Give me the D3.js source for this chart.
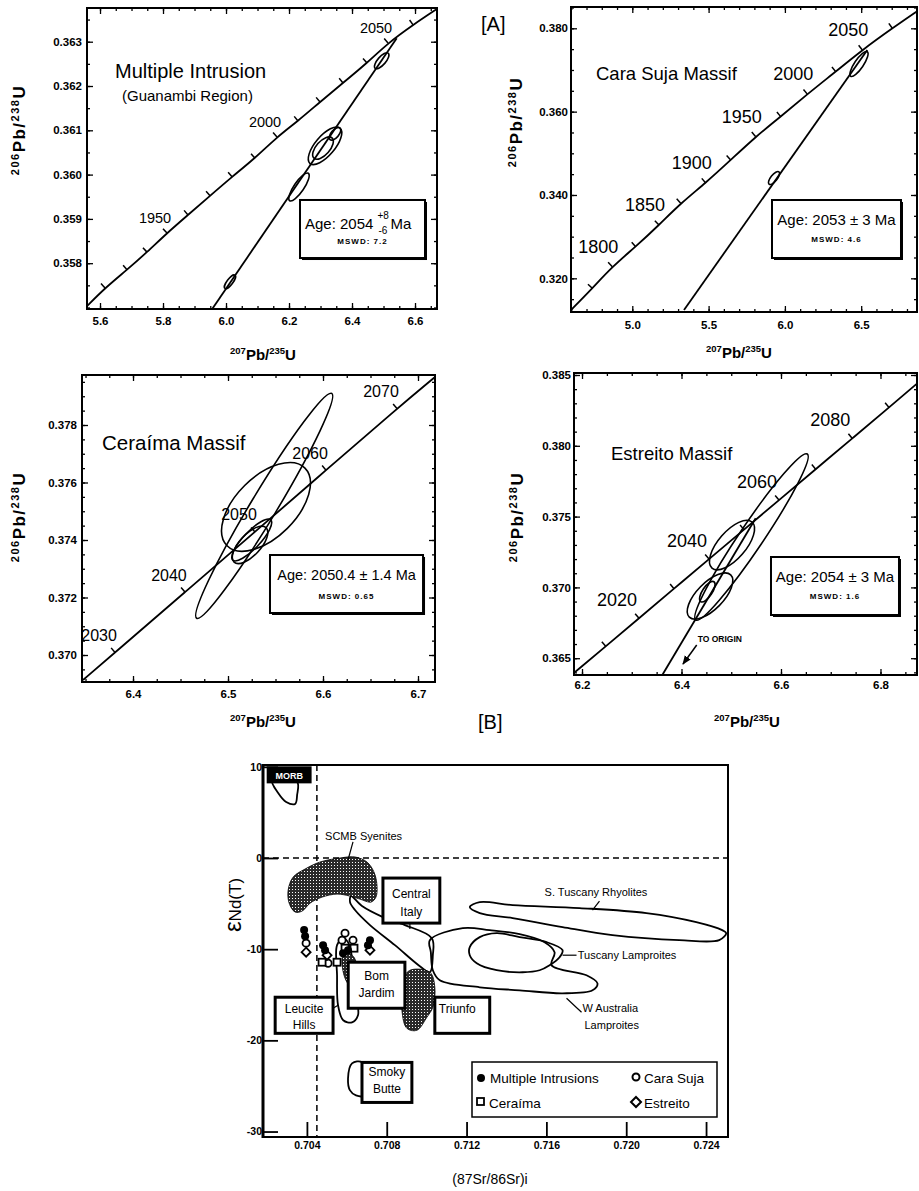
<!DOCTYPE html>
<html><head><meta charset="utf-8">
<script src="https://cdn.jsdelivr.net/npm/d3@7"></script>
<style>body{margin:0;background:#fff}</style>
</head><body>
<script>
// ================= DATA =================
// --- Panel A1: Multiple Intrusion (Guanambi Region) ---
const miXTicks=[5.6,5.8,6.0,6.2,6.4,6.6];
const miYTicks=[0.358,0.359,0.360,0.361,0.362,0.363];
const miConcordia=[[5.5587,0.35703],[5.6159,0.35744],[5.6857,0.35785],[5.7492,0.35825],[5.8127,0.35868],[5.8794,0.35909],[5.9492,0.35952],[6.0190,0.35995],[6.0921,0.36037],[6.1619,0.36085],[6.2286,0.36121],[6.2984,0.36164],[6.3714,0.36207],[6.4476,0.36252],[6.5143,0.36297],[6.5937,0.36338],[6.6698,0.36374]];
const miAges=[null,1920,1930,1940,1950,1960,1970,1980,1990,2000,2010,2020,2030,2040,2050,2060,null];
const miLabelAges=[1950,2000,2050];
const miDiscordia=[[5.9556,0.35696],[6.5419,0.36308]];
// ellipses: centre x, centre y, major-axis end x, end y, minor/major ratio
const miEllipses=[[6.0127,0.35758,6.0286,0.35773,0.35],[6.2317,0.35972,6.2613,0.36003,0.3],[6.3143,0.36065,6.3619,0.36105,0.42],[6.3079,0.36060,6.3365,0.36083,0.5],[6.3460,0.36092,6.3619,0.36105,0.5],[6.4943,0.36257,6.5152,0.36274,0.4]];

// --- Panel A2: Cara Suja Massif ---
const csXTicks=[5.0,5.5,6.0,6.5];
const csYTicks=[0.320,0.340,0.360,0.380];
const csConcordia=[[4.5983,0.3124],[4.7379,0.3176],[4.8689,0.3228],[5.0223,0.3276],[5.1750,0.3328],[5.3172,0.3380],[5.4810,0.3429],[5.6448,0.3484],[5.8087,0.3540],[5.9725,0.3588],[6.1468,0.3642],[6.3329,0.3696],[6.5072,0.3748],[6.7038,0.3800],[6.8788,0.3844]];
const csAges=[null,1775,1800,1825,1850,1875,1900,1925,1950,1975,2000,2025,2050,2075,null];
const csLabelAges=[1800,1850,1900,1950,2000,2050];
const csDiscordia=[[5.3388,0.3124],[6.5400,0.3748]];
const csEllipses=[[6.4856,0.37143,6.5400,0.37438,0.3],[5.9286,0.34407,5.9613,0.34556,0.4]];

// --- Panel A3: Ceraíma Massif ---
const ceXTicks=[6.4,6.5,6.6,6.7];
const ceYTicks=[0.370,0.372,0.374,0.376,0.378];
const ceConcordia=[[6.3474,0.36913],[6.3811,0.37009],[6.4547,0.37219],[6.5284,0.37428],[6.6032,0.37643],[6.6779,0.37857],[6.7179,0.37967]];
const ceAges=[null,2030,2040,2050,2060,2070,null];
const ceLabelAges=[2030,2040,2050,2060,2070];
const ceEllipses=[[6.5381,0.37519,6.6092,0.37910,0.1],[6.5400,0.37515,6.5810,0.37650,0.55],[6.5232,0.37383,6.5400,0.37443,0.45],[6.5250,0.37400,6.5450,0.37470,0.3]];

// --- Panel A4: Estreito Massif ---
const esXTicks=[6.2,6.4,6.6,6.8];
const esYTicks=[0.365,0.370,0.375,0.380,0.385];
const esConcordia=[[6.1839,0.36396],[6.2476,0.36584],[6.3146,0.36782],[6.3849,0.36991],[6.4553,0.37200],[6.5256,0.37408],[6.5960,0.37617],[6.6697,0.37835],[6.7433,0.38052],[6.8171,0.38271],[6.8774,0.38451]];
const esAges=[null,2010,2020,2030,2040,2050,2060,2070,2080,2090,null];
const esLabelAges=[2020,2040,2060,2080];
const esDiscordia=[[6.3614,0.36381],[6.5491,0.37488]];
const esEllipses=[[6.5407,0.37356,6.6529,0.37942,0.12],[6.5015,0.37299,6.5417,0.37462,0.45],[6.4573,0.36939,6.4989,0.37088,0.45],[6.4519,0.36970,6.4653,0.37040,0.4]];
const esArrow=[[6.4306,0.36593],[6.4030,0.36459]];

// --- Panel B: eNd(T) vs (87Sr/86Sr)i ---
const bXTicks=[0.704,0.708,0.712,0.716,0.720,0.724];
const bYTicks=[10,0,-10,-20,-30];
const bRefX=0.7045, bRefY=0;
const regMORB=[[0.70226,8.46],[0.70256,7.14],[0.70296,6.15],[0.70341,5.93],[0.70351,6.92],[0.70351,8.35]];
const regSCMB=[[0.70306,-3.52],[0.70331,-2.09],[0.70391,-1.21],[0.70466,-0.44],[0.70566,0.0],[0.70641,0.11],[0.70701,-0.44],[0.70736,-1.54],[0.70751,-2.97],[0.70746,-4.29],[0.70721,-4.84],[0.70666,-4.51],[0.70616,-4.18],[0.70551,-3.96],[0.70476,-4.29],[0.70416,-4.95],[0.70376,-5.82],[0.70341,-5.93],[0.70311,-4.95]];
const regCentralItaly=[[0.70621,-4.18],[0.70676,-5.27],[0.70781,-6.48],[0.70891,-7.36],[0.71026,-8.79],[0.71031,-10.66],[0.71016,-12.53],[0.70966,-11.87],[0.70841,-9.56],[0.70716,-7.36],[0.70641,-5.71],[0.70616,-4.84]];
const regWAustralia=[[0.71016,-9.01],[0.71181,-7.69],[0.71316,-7.91],[0.71466,-8.35],[0.71591,-9.23],[0.71641,-10.33],[0.71626,-11.76],[0.71801,-12.86],[0.71856,-13.74],[0.71831,-14.51],[0.71681,-14.84],[0.71466,-14.51],[0.71266,-14.18],[0.71066,-13.41],[0.71031,-12.31],[0.71021,-10.33]];
const regTuscanyLamp=[[0.71216,-9.78],[0.71266,-8.68],[0.71351,-8.24],[0.71466,-8.68],[0.71601,-9.23],[0.71681,-10.11],[0.71666,-10.88],[0.71616,-11.76],[0.71566,-12.31],[0.71481,-12.53],[0.71351,-12.31],[0.71251,-11.54],[0.71216,-10.66]];
const regSTuscany=[[0.71216,-5.38],[0.71266,-4.84],[0.71431,-5.16],[0.71766,-5.49],[0.72101,-6.04],[0.72351,-7.03],[0.72481,-7.91],[0.72501,-8.24],[0.72466,-9.01],[0.72266,-9.01],[0.71931,-8.46],[0.71681,-7.58],[0.71431,-6.59],[0.71266,-6.04]];
const regTriunfo=[[0.70916,-12.31],[0.71016,-12.53],[0.71041,-14.18],[0.71031,-16.37],[0.71001,-17.47],[0.70951,-18.90],[0.70901,-18.68],[0.70876,-16.70],[0.70881,-13.41]];
const regBomJardim=[[0.70582,-10.66],[0.70626,-10.66],[0.70651,-11.76],[0.70646,-13.41],[0.70616,-13.96],[0.70586,-12.86]];
const regLeucite=[[0.70551,-9.56],[0.70582,-8.79],[0.70611,-9.45],[0.70636,-12.86],[0.70651,-15.60],[0.70656,-17.25],[0.70626,-18.02],[0.70582,-17.80],[0.70556,-16.15],[0.70551,-12.86]];
const regSmoky=[[0.70676,-22.42],[0.70626,-22.53],[0.70606,-24.18],[0.70616,-25.49],[0.70646,-26.04],[0.70686,-26.04]];
// samples
const ptsMultiple=[[0.70386,-7.91],[0.70391,-8.57],[0.70481,-9.56],[0.70491,-10.11],[0.70581,-10.44],[0.70606,-10.11],[0.70716,-9.01],[0.70706,-9.56]];
const ptsCaraSuja=[[0.70396,-9.34],[0.70591,-8.24],[0.70576,-9.01],[0.70631,-9.01],[0.70506,-11.54]];
const ptsCeraima=[[0.70476,-11.43],[0.70551,-11.43],[0.70591,-9.89],[0.70636,-9.89]];
const ptsEstreito=[[0.70396,-10.33],[0.70716,-10.11],[0.70501,-10.66]];

// ================= DRAWING =================
const NARROW="'Liberation Sans Narrow','Liberation Sans',Arial,sans-serif";
const SANS="'Liberation Sans',Arial,sans-serif";
const svg=d3.select('body').append('svg').attr('width',919).attr('height',1191).style('background','#fff');
const defs=svg.append('defs');
const pat=defs.append('pattern').attr('id','stip').attr('width',3).attr('height',3).attr('patternUnits','userSpaceOnUse');
pat.append('rect').attr('width',3).attr('height',3).attr('fill','#2a2a2a');
pat.append('rect').attr('x',1).attr('y',1).attr('width',1).attr('height',1).attr('fill','#fff');

function rangeStep(a,b,s){const o=[];for(let v=Math.ceil(a/s-1e-9);v*s<=b+1e-12;v++)o.push(+(v*s).toFixed(6));return o;}

function styleAxis(sel,size){
  sel.select('.domain').remove();
  sel.selectAll('line').attr('stroke','#000').attr('stroke-width',1.3);
  sel.selectAll('text').attr('font-family',SANS).attr('font-size',size).attr('font-weight','bold').attr('fill','#000');
}

function axisTitle(xc,yc,rot,ls){
  return svg.append('text').attr('transform',`translate(${xc},${yc}) rotate(${rot})`)
    .attr('text-anchor','middle').attr('font-family',SANS).attr('font-weight','bold').attr('fill','#000').attr('letter-spacing',ls||0);
}
function isoTitle(t,a,el1,b,el2,big){
  const s=big?17:15, ss=big?11:9.5;
  t.append('tspan').attr('font-size',ss).attr('dy',-6).text(a);
  t.append('tspan').attr('font-size',s).attr('dy',6).text(el1);
  t.append('tspan').attr('font-size',ss).attr('dy',-6).text(b);
  t.append('tspan').attr('font-size',s).attr('dy',6).text(el2);
}

function drawPanel(p){
  const [fx0,fx1,fy0,fy1]=p.frame;
  const x=d3.scaleLinear().domain(p.xDom).range([fx0,fx1]);
  const y=d3.scaleLinear().domain(p.yDom).range([fy1,fy0]);
  const g=svg.append('g');
  const xm=rangeStep(p.xDom[0],p.xDom[1],p.xMinor), ym=rangeStep(p.yDom[0],p.yDom[1],p.yMinor);
  g.append('g').attr('transform',`translate(0,${fy1})`).call(d3.axisBottom(x).tickValues(xm).tickFormat('').tickSizeInner(-3).tickSizeOuter(0)).call(s=>styleAxis(s,11));
  g.append('g').attr('transform',`translate(0,${fy0})`).call(d3.axisTop(x).tickValues(xm).tickFormat('').tickSizeInner(-3).tickSizeOuter(0)).call(s=>styleAxis(s,11));
  g.append('g').attr('transform',`translate(${fx0},0)`).call(d3.axisLeft(y).tickValues(ym).tickFormat('').tickSizeInner(-3).tickSizeOuter(0)).call(s=>styleAxis(s,11));
  g.append('g').attr('transform',`translate(${fx1},0)`).call(d3.axisRight(y).tickValues(ym).tickFormat('').tickSizeInner(-3).tickSizeOuter(0)).call(s=>styleAxis(s,11));
  g.append('g').attr('transform',`translate(0,${fy1})`).call(d3.axisBottom(x).tickValues(p.xTicks).tickFormat(d3.format('.1f')).tickSizeInner(-6).tickSizeOuter(0).tickPadding(p.xPad)).call(s=>styleAxis(s,11.5));
  g.append('g').attr('transform',`translate(0,${fy0})`).call(d3.axisTop(x).tickValues(p.xTicks).tickFormat('').tickSizeInner(-6).tickSizeOuter(0)).call(s=>styleAxis(s,11));
  g.append('g').attr('transform',`translate(${fx0},0)`).call(d3.axisLeft(y).tickValues(p.yTicks).tickFormat(d3.format('.3f')).tickSizeInner(-6).tickSizeOuter(0).tickPadding(p.yPad)).call(s=>styleAxis(s,11.5));
  g.append('g').attr('transform',`translate(${fx1},0)`).call(d3.axisRight(y).tickValues(p.yTicks).tickFormat('').tickSizeInner(-6).tickSizeOuter(0)).call(s=>styleAxis(s,11));
  defs.append('clipPath').attr('id','c'+p.id).append('rect').attr('x',fx0).attr('y',fy0).attr('width',fx1-fx0).attr('height',fy1-fy0);
  const c=g.append('g').attr('clip-path',`url(#c${p.id})`);
  const line=d3.line().x(d=>x(d[0])).y(d=>y(d[1])).curve(d3.curveBasis);
  c.append('path').attr('d',line(p.conc)).attr('fill','none').attr('stroke','#000').attr('stroke-width',1.8);
  if(p.disc) c.append('path').attr('d',d3.line().x(d=>x(d[0])).y(d=>y(d[1]))(p.disc)).attr('fill','none').attr('stroke','#000').attr('stroke-width',1.8);
  p.ages.forEach((a,i)=>{
    if(a==null) return;
    const px=x(p.conc[i][0]), py=y(p.conc[i][1]);
    const dx=x(p.conc[i+1][0])-x(p.conc[i-1][0]), dy=y(p.conc[i+1][1])-y(p.conc[i-1][1]);
    const L=Math.hypot(dx,dy), nx=dy/L, ny=-dx/L;
    c.append('line').attr('x1',px).attr('y1',py).attr('x2',px+nx*6).attr('y2',py+ny*6).attr('stroke','#000').attr('stroke-width',1.5);
  });
  p.ell.forEach(e=>{
    const cx=x(e[0]), cy=y(e[1]), qx=x(e[2]), qy=y(e[3]);
    const a=Math.hypot(qx-cx,qy-cy), ang=Math.atan2(qy-cy,qx-cx)*180/Math.PI;
    c.append('ellipse').attr('cx',cx).attr('cy',cy).attr('rx',a).attr('ry',a*e[4])
      .attr('transform',`rotate(${ang},${cx},${cy})`).attr('fill','none').attr('stroke','#000').attr('stroke-width',1.6);
  });
  p.labelAges.forEach(a=>{
    const i=p.ages.indexOf(a);
    g.append('text').attr('x',x(p.conc[i][0])+p.lab[0]).attr('y',y(p.conc[i][1])+p.lab[1])
      .attr('text-anchor','middle').attr('dominant-baseline','central')
      .attr('font-family',SANS).attr('font-size',p.labSize).attr('fill','#000').text(a);
  });
  g.append('rect').attr('x',fx0).attr('y',fy0).attr('width',fx1-fx0).attr('height',fy1-fy0).attr('fill','none').attr('stroke','#000').attr('stroke-width',2);
  g.append('text').attr('x',x(p.title[1])).attr('y',y(p.title[2])).attr('font-family',SANS).attr('font-size',p.titleSize).attr('fill','#000').text(p.title[0]);
  if(p.sub) g.append('text').attr('x',x(p.sub[1])).attr('y',y(p.sub[2])).attr('font-family',SANS).attr('font-size',15).attr('fill','#000').text(p.sub[0]);
  const bx0=x(p.box[0]), bx1=x(p.box[1]), by0=y(p.box[2]), by1=y(p.box[3]);
  g.append('rect').attr('x',bx0+2).attr('y',by0+2).attr('width',bx1-bx0).attr('height',by1-by0).attr('fill','#000');
  g.append('rect').attr('x',bx0).attr('y',by0).attr('width',bx1-bx0).attr('height',by1-by0).attr('fill','#fff').attr('stroke','#000').attr('stroke-width',2);
  const mid=(bx0+bx1)/2;
  if(p.ageParts){
    const t1=g.append('text').attr('x',bx0+5).attr('y',by0+29).attr('font-family',SANS).attr('font-size',15).attr('fill','#000').text(p.ageParts[0]);
    const w=t1.node().getComputedTextLength();
    g.append('text').attr('x',bx0+5+w+4).attr('y',by0+19).attr('font-family',SANS).attr('font-size',10).text(p.ageParts[1]);
    g.append('text').attr('x',bx0+5+w+5).attr('y',by0+34).attr('font-family',SANS).attr('font-size',10).text(p.ageParts[2]);
    g.append('text').attr('x',bx0+5+w+17).attr('y',by0+29).attr('font-family',SANS).attr('font-size',15).text(p.ageParts[3]);
  } else {
    g.append('text').attr('x',mid).attr('y',by0+25).attr('text-anchor','middle').attr('font-family',SANS).attr('font-size',p.ageSize||15).attr('fill','#000').text(p.ageText);
  }
  g.append('text').attr('x',mid).attr('y',by0+p.mswdY).attr('text-anchor','middle').attr('font-family',SANS).attr('font-weight','bold').attr('font-size',8).attr('letter-spacing',1).attr('fill','#000').text(p.mswd);
  return {x,y,g};
}

drawPanel({id:1,frame:[87,437,8,309],xDom:[5.5587,6.6698],yDom:[0.356966,0.363761],xTicks:miXTicks,yTicks:miYTicks,xMinor:0.05,yMinor:0.0005,xPad:8,yPad:5,
  conc:miConcordia,ages:miAges,labelAges:miLabelAges,disc:miDiscordia,ell:miEllipses,lab:[-12,-15],labSize:14.5,
  title:['Multiple Intrusion',5.6476,0.36218],titleSize:20,sub:['(Guanambi Region)',5.6698,0.36166],
  box:[6.2349,6.6317,0.359427,0.358117],ageParts:['Age: 2054','+8','-6','Ma'],mswd:'MSWD: 7.2',mswdY:44});
drawPanel({id:2,frame:[571,917,7,312],xDom:[4.5983,6.8657],yDom:[0.311919,0.385112],xTicks:csXTicks,yTicks:csYTicks,xMinor:0.1,yMinor:0.005,xPad:9,yPad:3,
  conc:csConcordia,ages:csAges,labelAges:csLabelAges,disc:csDiscordia,ell:csEllipses,lab:[-14,-20],labSize:18,
  title:['Cara Suja Massif',4.7621,0.367593],titleSize:18.5,
  box:[5.9155,6.7608,0.338795,0.324877],ageText:'Age: 2053 ± 3 Ma',mswd:'MSWD: 4.6',mswdY:42});
drawPanel({id:3,frame:[82,435,375,682],xDom:[6.3463,6.7179],yDom:[0.369061,0.379739],xTicks:ceXTicks,yTicks:ceYTicks,xMinor:0.025,yMinor:0.0005,xPad:8,yPad:5,
  conc:ceConcordia,ages:ceAges,labelAges:ceLabelAges,ell:ceEllipses,lab:[-16,-17],labSize:16,
  title:['Ceraíma Massif',6.3674,0.37713],titleSize:20.5,
  box:[6.5442,6.7053,0.373478,0.371461],ageText:'Age: 2050.4 ± 1.4 Ma',ageSize:14.5,mswd:'MSWD: 0.65',mswdY:44});
const p4=drawPanel({id:4,frame:[574,917,373,675],xDom:[6.1839,6.8734],yDom:[0.363814,0.385141],xTicks:esXTicks,yTicks:esYTicks,xMinor:0.05,yMinor:0.001,xPad:6,yPad:3,
  conc:esConcordia,ages:esAges,labelAges:esLabelAges,disc:esDiscordia,ell:esEllipses,lab:[-22,-18],labSize:18,
  title:['Estreito Massif',6.2583,0.37900],titleSize:18.5,
  box:[6.5799,6.8372,0.372147,0.368051],ageText:'Age: 2054 ± 3 Ma',mswd:'MSWD: 1.6',mswdY:42});
defs.append('marker').attr('id','arr').attr('viewBox','0 0 10 10').attr('refX',9).attr('refY',5).attr('markerWidth',6).attr('markerHeight',6).attr('orient','auto')
  .append('path').attr('d','M0,1 L10,5 L0,9 Z').attr('fill','#000');
p4.g.append('line').attr('x1',p4.x(esArrow[0][0])).attr('y1',p4.y(esArrow[0][1])).attr('x2',p4.x(esArrow[1][0])).attr('y2',p4.y(esArrow[1][1]))
  .attr('stroke','#000').attr('stroke-width',1.5).attr('marker-end','url(#arr)');
p4.g.append('text').attr('x',p4.x(esArrow[0][0])+1).attr('y',p4.y(esArrow[0][1])-3).attr('font-family',SANS).attr('font-weight','bold').attr('font-size',8.5).text('TO ORIGIN');

// axis titles
isoTitle(axisTitle(25,130,-90,1.5),'206','Pb/','238','U',true);
isoTitle(axisTitle(522,122,-90,1.5),'206','Pb/','238','U',true);
isoTitle(axisTitle(25,517,-90,1.5),'206','Pb/','238','U',true);
isoTitle(axisTitle(523,517,-90,1.5),'206','Pb/','238','U',true);
isoTitle(axisTitle(263,360,0),'207','Pb/','235','U');
isoTitle(axisTitle(739,358,0),'207','Pb/','235','U');
isoTitle(axisTitle(263,727,0),'207','Pb/','235','U');
isoTitle(axisTitle(747,727,0),'207','Pb/','235','U');
svg.append('text').attr('x',481).attr('y',31).attr('font-family',SANS).attr('font-size',20).text('[A]');
svg.append('text').attr('x',478).attr('y',729).attr('font-family',SANS).attr('font-size',20).text('[B]');

// ================= PANEL B =================
const xB=d3.scaleLinear().domain([0.7018,0.7251]).range([263,728]);
const yB=d3.scaleLinear().domain([10.2,-30.6]).range([765,1137]);
const gB=svg.append('g');
defs.append('clipPath').attr('id','cB').append('rect').attr('x',263).attr('y',765).attr('width',465).attr('height',372);
const cB=gB.append('g').attr('clip-path','url(#cB)');
cB.append('line').attr('x1',xB(bRefX)).attr('x2',xB(bRefX)).attr('y1',765).attr('y2',1137).attr('stroke','#000').attr('stroke-width',1.5).attr('stroke-dasharray','6,4');
cB.append('line').attr('x1',263).attr('x2',728).attr('y1',yB(bRefY)).attr('y2',yB(bRefY)).attr('stroke','#000').attr('stroke-width',1.5).attr('stroke-dasharray','6,4');
const closed=d3.line().x(d=>xB(d[0])).y(d=>yB(d[1])).curve(d3.curveCatmullRomClosed.alpha(0.5));
function region(pts,fill,sw){cB.append('path').attr('d',closed(pts)).attr('fill',fill||'none').attr('stroke','#000').attr('stroke-width',sw||1.8);}
region(regMORB);
region(regWAustralia,'#fff');
region(regCentralItaly);
region(regTuscanyLamp);
region(regSTuscany);
region(regLeucite);
region(regSmoky);
region(regSCMB,'url(#stip)',0.8);
region(regTriunfo,'url(#stip)',0.8);
region(regBomJardim,'url(#stip)',0.8);
const leaders=[[[0.70631,1.76],[0.70606,-0.22]],[[0.71866,-4.73],[0.71831,-5.71]],[[0.71681,-10.66],[0.71751,-10.66]],[[0.71701,-15.38],[0.71776,-16.92]],[[0.70916,-7.14],[0.70916,-7.80]],[[0.70641,-12.09],[0.70676,-12.97]],[[0.70531,-16.48],[0.70556,-16.15]]];
leaders.forEach(l=>cB.append('line').attr('x1',xB(l[0][0])).attr('y1',yB(l[0][1])).attr('x2',xB(l[1][0])).attr('y2',yB(l[1][1])).attr('stroke','#000').attr('stroke-width',1.2));
const bTexts=[['SCMB Syenites',0.70491,1.98],['S. Tuscany Rhyolites',0.71591,-4.18],['Tuscany Lamproites',0.71757,-11.10],['W Australia',0.71781,-16.92],['Lamproites',0.71791,-18.79]];
bTexts.forEach(t=>gB.append('text').attr('x',xB(t[1])).attr('y',yB(t[2])).attr('font-family',SANS).attr('font-size',11).attr('fill','#000').text(t[0]));
const sym=gB.append('g');
ptsCaraSuja.forEach(d=>sym.append('circle').attr('cx',xB(d[0])).attr('cy',yB(d[1])).attr('r',3.6).attr('fill','#fff').attr('stroke','#000').attr('stroke-width',1.8));
ptsCeraima.forEach(d=>sym.append('rect').attr('x',xB(d[0])-3.5).attr('y',yB(d[1])-3.5).attr('width',7).attr('height',7).attr('fill','#fff').attr('stroke','#000').attr('stroke-width',1.8));
ptsEstreito.forEach(d=>sym.append('path').attr('d',`M${xB(d[0])},${yB(d[1])-4.5}l4.5,4.5l-4.5,4.5l-4.5,-4.5z`).attr('fill','#fff').attr('stroke','#000').attr('stroke-width',1.8));
ptsMultiple.forEach(d=>sym.append('circle').attr('cx',xB(d[0])).attr('cy',yB(d[1])).attr('r',4).attr('fill','#000'));
const bBoxes=[
 {lines:['MORB'],x0:0.70206,x1:0.70416,y0:9.89,y1:8.35,dark:true,base:[11]},
 {lines:['Central','Italy'],x0:0.70781,x1:0.71066,y0:-2.20,y1:-7.14,base:[20,38]},
 {lines:['Bom','Jardim'],x0:0.70607,x1:0.70891,y0:-11.43,y1:-16.48,base:[18,35]},
 {lines:['Leucite','Hills'],x0:0.70241,x1:0.70531,y0:-15.27,y1:-19.23,base:[16,32]},
 {lines:['Triunfo'],x0:0.71041,x1:0.71316,y0:-15.27,y1:-19.23,base:[16],left:true},
 {lines:['Smoky','Butte'],x0:0.70676,x1:0.70926,y0:-22.42,y1:-26.81,base:[14,31]}];
bBoxes.forEach(b=>{
  const X0=xB(b.x0),X1=xB(b.x1),Y0=yB(b.y0),Y1=yB(b.y1);
  gB.append('rect').attr('x',X0).attr('y',Y0).attr('width',X1-X0).attr('height',Y1-Y0).attr('fill',b.dark?'#000':'#fff').attr('stroke','#000').attr('stroke-width',3);
  b.lines.forEach((s,i)=>gB.append('text').attr('x',b.left?X0+4:(X0+X1)/2).attr('y',Y0+b.base[i]).attr('text-anchor',b.left?'start':'middle')
    .attr('font-family',SANS).attr('font-size',b.dark?9:12).attr('font-weight',b.dark?'bold':'normal').attr('fill',b.dark?'#fff':'#000').text(s));
});
const lg=gB.append('g');
lg.append('rect').attr('x',472).attr('y',1062).attr('width',245).attr('height',55).attr('fill','#fff').attr('stroke','#000').attr('stroke-width',1.5);
lg.append('circle').attr('cx',481).attr('cy',1078).attr('r',4).attr('fill','#000');
lg.append('circle').attr('cx',636).attr('cy',1077).attr('r',3.5).attr('fill','#fff').attr('stroke','#000').attr('stroke-width',2);
lg.append('rect').attr('x',477).attr('y',1098).attr('width',7).attr('height',7).attr('fill','#fff').attr('stroke','#000').attr('stroke-width',1.8);
lg.append('path').attr('d','M636,1097l5,5l-5,5l-5,-5z').attr('fill','#fff').attr('stroke','#000').attr('stroke-width',2);
[['Multiple Intrusions',490,1083],['Cara Suja',644,1083],['Ceraíma',489,1108],['Estreito',644,1108]].forEach(t=>
  lg.append('text').attr('x',t[1]).attr('y',t[2]).attr('font-family',SANS).attr('font-size',13.5).attr('fill','#000').text(t[0]));
gB.append('g').attr('transform','translate(0,1137)').call(d3.axisBottom(xB).tickValues(bXTicks).tickFormat(d3.format('.3f')).tickSizeInner(-15).tickSizeOuter(0).tickPadding(5)).call(s=>styleAxis(s,10.5));
gB.append('g').attr('transform','translate(263,0)').call(d3.axisLeft(yB).tickValues(bYTicks).tickFormat(d=>String(d)).tickSizeInner(-15).tickSizeOuter(0).tickPadding(1)).call(s=>styleAxis(s,10.5));
gB.selectAll('.tick line').attr('stroke-width',1.8);
gB.append('rect').attr('x',263).attr('y',765).attr('width',465).attr('height',372).attr('fill','none').attr('stroke','#000').attr('stroke-width',2);
gB.append('line').attr('x1',263).attr('x2',263).attr('y1',764).attr('y2',1138).attr('stroke','#000').attr('stroke-width',3);
svg.append('text').attr('x',490).attr('y',1184).attr('text-anchor','middle').attr('font-family',SANS).attr('font-size',14).text('(87Sr/86Sr)i');
const eps=svg.append('text').attr('transform','translate(241,905) rotate(-90)').attr('text-anchor','middle').attr('font-family',SANS).attr('fill','#000');
eps.append('tspan').attr('font-size',24).text('ε');
eps.append('tspan').attr('font-size',17).text('Nd(T)');
</script>
</body></html>
